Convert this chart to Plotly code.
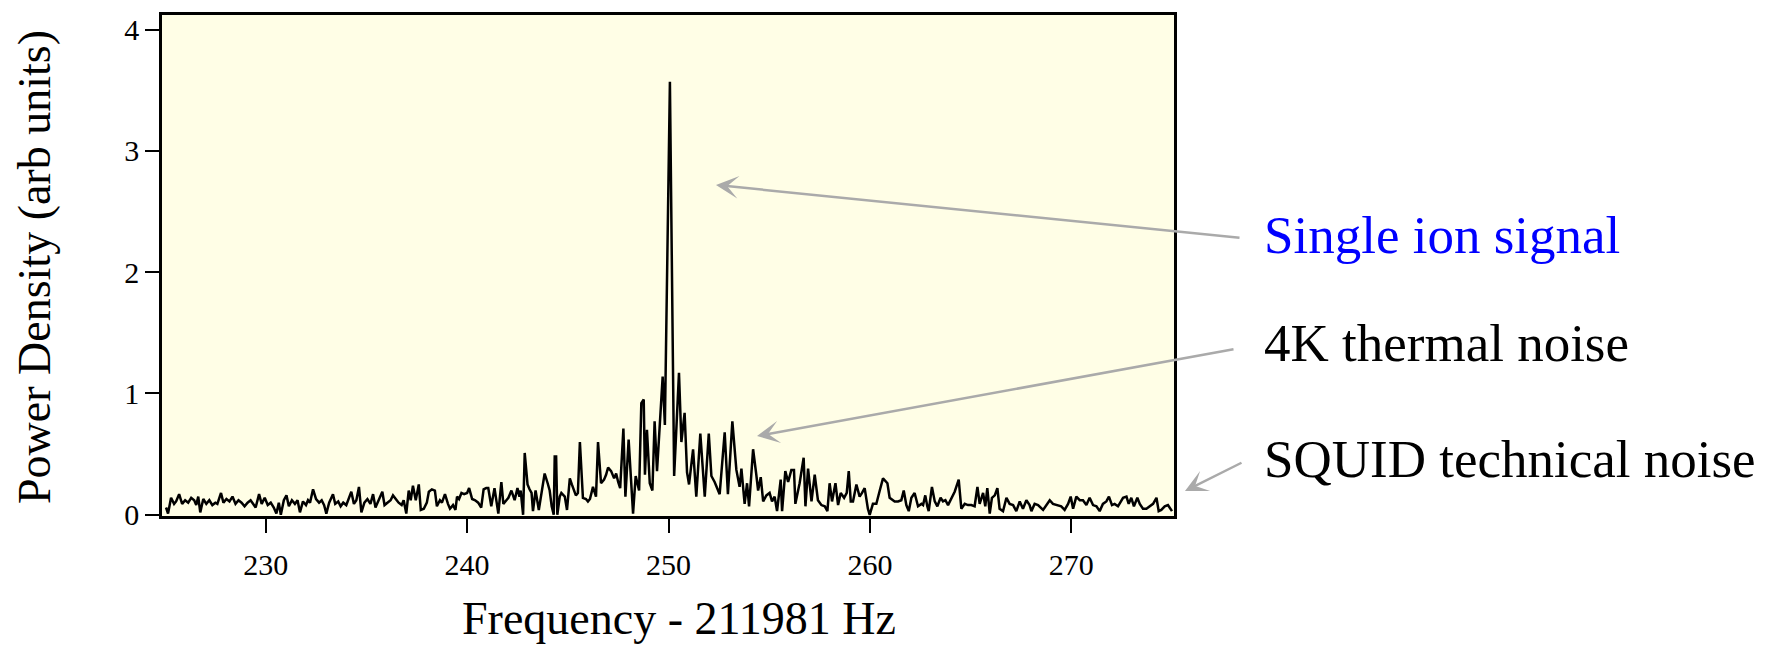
import plotly.graph_objects as go

# Frequency offsets (Hz, relative to 211981 Hz) and power density (arb units)
freq = [
    225.05, 225.15, 225.3, 225.45, 225.55, 225.7, 225.85, 226.0, 226.15, 226.3, 226.45, 226.55, 226.65, 226.75, 226.9,
    227.05, 227.2, 227.35, 227.5, 227.6, 227.78, 227.9, 228.05, 228.2, 228.35, 228.5, 228.65, 228.8, 228.95,
    229.1, 229.25, 229.4, 229.5, 229.67, 229.8, 229.95, 230.1, 230.25, 230.4, 230.53, 230.65, 230.75, 230.9,
    231.03, 231.15, 231.3, 231.45, 231.58, 231.7, 231.85, 232.0, 232.1, 232.2, 232.35, 232.5, 232.65, 232.78, 232.9,
    233.01, 233.15, 233.34, 233.45, 233.6, 233.72, 233.85, 234.0, 234.12, 234.25, 234.38, 234.5, 234.63, 234.75, 234.9,
    235.05, 235.2, 235.33, 235.45, 235.6, 235.79, 235.9, 236.05, 236.2, 236.32, 236.45, 236.6, 236.75, 236.85,
    236.98, 237.1, 237.2, 237.31, 237.45, 237.6, 237.7, 237.85, 238.0, 238.1, 238.25, 238.4, 238.5, 238.65, 238.75,
    238.9, 239.05, 239.15, 239.3, 239.42, 239.5, 239.6, 239.72, 239.85, 240.0, 240.1, 240.25, 240.4, 240.55, 240.7,
    240.82, 240.95, 241.05, 241.2, 241.36, 241.47, 241.55, 241.7, 241.8, 241.95, 242.05, 242.2, 242.36, 242.5, 242.6,
    242.66, 242.78, 242.86, 243.0, 243.1, 243.2, 243.27, 243.4, 243.56, 243.7, 243.85, 244.0, 244.1, 244.2, 244.3,
    244.35, 244.42, 244.48, 244.6, 244.68, 244.85, 244.96, 245.1, 245.2, 245.3, 245.4, 245.5, 245.6, 245.75, 245.9,
    246.0, 246.1, 246.25, 246.4, 246.5, 246.65, 246.8, 246.9, 247.0, 247.15, 247.3, 247.4, 247.5, 247.6, 247.76,
    247.86, 248.02, 248.1, 248.24, 248.37, 248.54, 248.65, 248.77, 248.83, 248.93, 249.07, 249.2, 249.31, 249.43,
    249.57, 249.71, 249.82, 250.07, 250.28, 250.52, 250.64, 250.8, 250.92, 251.02, 251.22, 251.38, 251.58, 251.8,
    252.0, 252.13, 252.29, 252.54, 252.79, 252.95, 253.17, 253.37, 253.53, 253.62, 253.78, 253.9, 254.0, 254.2,
    254.36, 254.45, 254.58, 254.7, 254.86, 255.02, 255.14, 255.27, 255.39, 255.57, 255.64, 255.8, 255.94, 256.1,
    256.23, 256.3, 256.51, 256.71, 256.8, 256.93, 257.1, 257.26, 257.42, 257.59, 257.76, 257.89, 258.0, 258.12,
    258.29, 258.42, 258.55, 258.72, 258.85, 258.95, 259.05, 259.16, 259.33, 259.49, 259.61, 259.74, 259.9, 259.99,
    260.15, 260.32, 260.49, 260.65, 260.87, 260.98, 261.23, 261.4, 261.56, 261.68, 261.81, 261.93, 262.06, 262.22,
    262.39, 262.56, 262.64, 262.75, 262.85, 262.92, 263.08, 263.22, 263.35, 263.51, 263.63, 263.75, 263.88, 264.05,
    264.21, 264.41, 264.54, 264.71, 264.87, 265.04, 265.2, 265.34, 265.45, 265.62, 265.73, 265.83, 265.95, 266.06,
    266.2, 266.33, 266.44, 266.61, 266.78, 266.94, 267.11, 267.27, 267.44, 267.6, 267.77, 267.93, 268.02, 268.18,
    268.35, 268.6, 268.76, 268.93, 269.09, 269.26, 269.5, 269.67, 269.84, 269.97, 270.09, 270.25, 270.42, 270.58,
    270.75, 270.91, 271.08, 271.25, 271.41, 271.57, 271.74, 271.87, 272.02, 272.15, 272.32, 272.57, 272.74, 272.85,
    272.98, 273.11, 273.28, 273.4, 273.56, 273.73, 273.89, 274.06, 274.23, 274.34, 274.47, 274.64, 274.8, 274.94, 275.0,
]
power = [
    0.06, 0.01, 0.14, 0.09, 0.11, 0.17, 0.09, 0.12, 0.10, 0.14, 0.12, 0.08, 0.15, 0.02, 0.13,
    0.09, 0.12, 0.08, 0.10, 0.09, 0.18, 0.10, 0.13, 0.11, 0.15, 0.09, 0.12, 0.10, 0.07,
    0.10, 0.12, 0.08, 0.06, 0.17, 0.09, 0.14, 0.08, 0.10, 0.06, 0.01, 0.10, 0.00, 0.12,
    0.16, 0.07, 0.12, 0.09, 0.12, 0.02, 0.11, 0.08, 0.12, 0.10, 0.21, 0.13, 0.10, 0.12, 0.08,
    0.01, 0.10, 0.17, 0.09, 0.11, 0.07, 0.10, 0.08, 0.13, 0.19, 0.09, 0.12, 0.23, 0.02, 0.10,
    0.13, 0.09, 0.17, 0.06, 0.12, 0.19, 0.08, 0.10, 0.12, 0.16, 0.13, 0.10, 0.08, 0.12,
    0.01, 0.20, 0.12, 0.24, 0.12, 0.25, 0.04, 0.05, 0.10, 0.19, 0.21, 0.20, 0.07, 0.12, 0.10,
    0.17, 0.09, 0.05, 0.08, 0.04, 0.15, 0.13, 0.18, 0.17, 0.18, 0.22, 0.13, 0.12, 0.10, 0.06,
    0.21, 0.22, 0.22, 0.07, 0.22, 0.10, 0.01, 0.27, 0.09, 0.12, 0.14, 0.20, 0.12, 0.22, 0.15,
    0.20, 0.00, 0.51, 0.25, 0.21, 0.18, 0.03, 0.20, 0.04, 0.20, 0.34, 0.26, 0.20, 0.07, 0.00,
    0.48, 0.48, 0.00, 0.15, 0.18, 0.15, 0.04, 0.30, 0.25, 0.20, 0.16, 0.18, 0.60, 0.14, 0.13,
    0.11, 0.13, 0.23, 0.15, 0.60, 0.26, 0.29, 0.33, 0.39, 0.36, 0.30, 0.34, 0.27, 0.22, 0.71,
    0.15, 0.62, 0.40, 0.01, 0.32, 0.20, 0.92, 0.95, 0.33, 0.70, 0.26, 0.20, 0.77, 0.36,
    0.75, 1.14, 0.74, 3.57, 0.32, 1.17, 0.60, 0.84, 0.35, 0.25, 0.54, 0.15, 0.67, 0.15,
    0.67, 0.32, 0.27, 0.17, 0.68, 0.17, 0.77, 0.37, 0.23, 0.38, 0.09, 0.26, 0.07, 0.54,
    0.33, 0.20, 0.31, 0.11, 0.16, 0.18, 0.11, 0.15, 0.03, 0.29, 0.03, 0.36, 0.27, 0.37,
    0.37, 0.09, 0.26, 0.47, 0.07, 0.38, 0.11, 0.33, 0.12, 0.08, 0.07, 0.03, 0.26, 0.11,
    0.26, 0.08, 0.18, 0.14, 0.18, 0.36, 0.11, 0.11, 0.25, 0.15, 0.18, 0.22, 0.05, 0.00,
    0.09, 0.09, 0.20, 0.30, 0.26, 0.14, 0.11, 0.11, 0.12, 0.20, 0.08, 0.03, 0.14, 0.18,
    0.07, 0.09, 0.08, 0.16, 0.07, 0.03, 0.23, 0.11, 0.07, 0.14, 0.11, 0.12, 0.08, 0.14,
    0.19, 0.29, 0.05, 0.09, 0.08, 0.08, 0.07, 0.23, 0.09, 0.18, 0.07, 0.22, 0.01, 0.14,
    0.16, 0.22, 0.05, 0.03, 0.14, 0.09, 0.08, 0.03, 0.11, 0.05, 0.12, 0.08, 0.03, 0.09,
    0.08, 0.04, 0.08, 0.12, 0.09, 0.08, 0.07, 0.04, 0.09, 0.15, 0.05, 0.15, 0.12, 0.12,
    0.08, 0.14, 0.08, 0.07, 0.03, 0.09, 0.11, 0.15, 0.08, 0.09, 0.07, 0.14, 0.15, 0.09,
    0.14, 0.07, 0.14, 0.09, 0.05, 0.05, 0.07, 0.09, 0.14, 0.03, 0.04, 0.07, 0.08, 0.04, 0.03,
]

x_ticks = [230, 240, 250, 260, 270]
y_ticks = [0, 1, 2, 3, 4]

x_title = "Frequency - 211981 Hz"
y_title = "Power Density (arb units)"
labels = ["Single ion signal", "4K thermal noise", "SQUID technical noise"]
label_colors = ["#0000ff", "#000000", "#000000"]

FONT = "Liberation Serif, Times New Roman, serif"
ARROW = "#aaaaaa"

fig = go.Figure()
fig.add_trace(go.Scatter(x=freq, y=power, mode="lines",
                         line=dict(color="black", width=2.5), hoverinfo="skip",
                         showlegend=False))

W, H = 1777, 648
L, R, T, B = 162, 603, 15, 132
pw, ph = W - L - R, H - T - B

def px(xp):
    return (xp - L) / pw

def py(yp):
    return (H - B - yp) / ph

annotations = []
# arrows: head (pixel), tail (pixel)
arrows = [((716, 185), (1241, 238)),
          ((757, 436), (1235, 349)),
          ((1185, 491), (1243, 462))]
for (hx, hy), (tx, ty) in arrows:
    annotations.append(dict(x=px(hx), y=py(hy), xref="paper", yref="paper",
                            ax=tx - hx, ay=ty - hy, axref="pixel", ayref="pixel",
                            text="", showarrow=True, arrowhead=3, arrowsize=1.5,
                            arrowwidth=2.5, arrowcolor=ARROW))
label_y = [235, 343, 459]
for txt, col, yy in zip(labels, label_colors, label_y):
    annotations.append(dict(x=px(1262), y=py(yy), xref="paper", yref="paper",
                            text=txt, showarrow=False, xanchor="left", yanchor="middle",
                            font=dict(family=FONT, size=53, color=col)))
annotations.append(dict(x=px(679), y=py(619), xref="paper", yref="paper",
                        text=x_title, showarrow=False, xanchor="center", yanchor="middle",
                        font=dict(family=FONT, size=46, color="black")))
annotations.append(dict(x=px(34), y=py(267), xref="paper", yref="paper",
                        text=y_title, showarrow=False, xanchor="center", yanchor="middle",
                        textangle=-90,
                        font=dict(family=FONT, size=46, color="black")))

fig.update_layout(
    width=W, height=H,
    margin=dict(l=L, r=R, t=T, b=B, pad=0),
    paper_bgcolor="white",
    plot_bgcolor="#fffee6",
    font=dict(family=FONT, size=30, color="black"),
    annotations=annotations,
)
fig.update_xaxes(range=[224.85, 275.1], tickmode="array", tickvals=x_ticks,
                 ticks="outside", ticklen=14, tickwidth=2, tickcolor="black",
                 ticklabelstandoff=6,
                 showline=True, linecolor="black", linewidth=2.5, mirror=True,
                 showgrid=False, zeroline=False,
                 tickfont=dict(family=FONT, size=30, color="black"))
fig.update_yaxes(range=[-0.01, 4.12], tickmode="array", tickvals=y_ticks,
                 ticks="outside", ticklen=14, tickwidth=2, tickcolor="black",
                 showline=True, linecolor="black", linewidth=2.5, mirror=True,
                 showgrid=False, zeroline=False,
                 tickfont=dict(family=FONT, size=30, color="black"))

fig.write_html("out.html")
